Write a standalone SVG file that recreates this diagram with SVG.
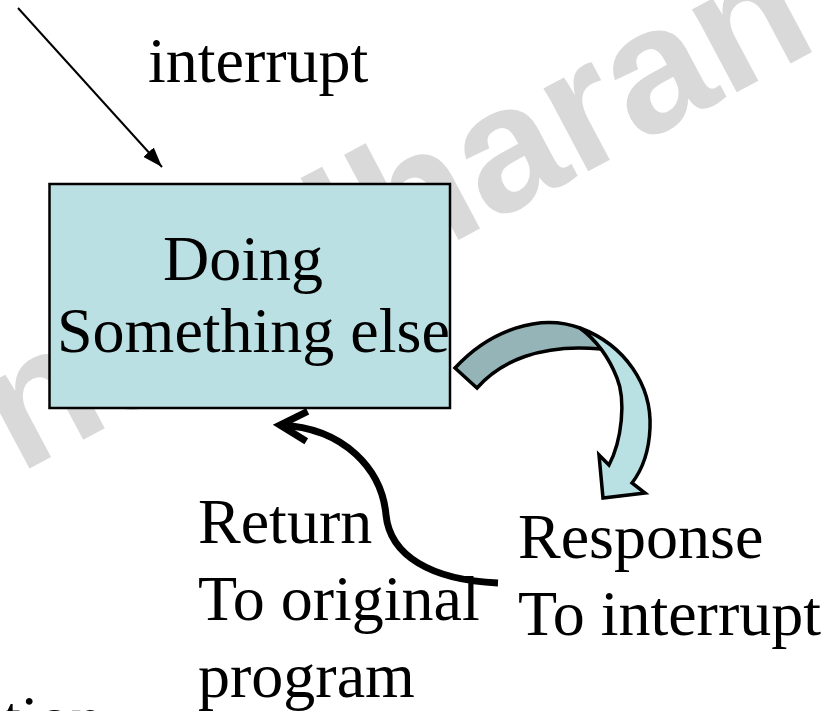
<svg xmlns="http://www.w3.org/2000/svg" width="838" height="711" viewBox="0 0 838 711">
  <style>
    .lbl { font-family: "Liberation Serif", "Times New Roman", serif; font-size: 64px; fill: #000; }
    .wm { font-family: "Liberation Sans", Arial, sans-serif; font-weight: bold; font-size: 178px; fill: #d9d9d9; }
    .box { fill: #bbe0e3; stroke: #000; stroke-width: 2.5; }
    .thin { fill: none; stroke: #000; stroke-width: 2; }
    .thick { fill: none; stroke: #000; stroke-width: 7; stroke-linecap: butt; }
    .band-dark { fill: #94b4b7; stroke: #000; stroke-width: 3.5; stroke-linejoin: miter; }
    .band-light { fill: #b9e0e3; stroke: #000; stroke-width: 3.5; stroke-linejoin: miter; }
  </style>
  <defs>
    <marker id="tri" viewBox="0 0 10 7" refX="10" refY="3.5" markerWidth="10" markerHeight="7" markerUnits="strokeWidth" orient="auto">
      <path d="M0,0 L10,3.5 L0,7 z" fill="#000"/>
    </marker>
    <marker id="chevron" viewBox="-34 -22 40 44" refX="0" refY="0" markerWidth="40" markerHeight="44" markerUnits="userSpaceOnUse" orient="auto" overflow="visible">
      <path d="M-27,-15 L0,0 L-27,15" fill="none" stroke="#000" stroke-width="7" stroke-linejoin="miter"/>
    </marker>
  </defs>

  <rect width="838" height="711" fill="#fff"/>

  <!-- background watermark -->
  <text class="wm" transform="translate(18.4,474.2) rotate(-28)">nsudharan</text>

  <!-- incoming interrupt -->
  <g id="interrupt-label">
    <text class="lbl" x="148" y="82">interrupt</text>
  </g>

  <!-- main state box -->
  <g id="node-doing">
    <rect class="box" x="49.5" y="184" width="400.5" height="224"/>
    <text class="lbl" x="163" y="280">Doing</text>
    <text class="lbl" x="57" y="352">Something else</text>
  </g>

  <g id="response-label">
    <text class="lbl" x="518" y="558">Response</text>
    <text class="lbl" x="518" y="635">To interrupt</text>
  </g>

  <g id="return-label">
    <text class="lbl" x="198" y="543">Return</text>
    <text class="lbl" x="198" y="620">To original</text>
    <text class="lbl" x="198" y="697">program</text>
  </g>

  <g id="cut-label">
    <text class="lbl" x="3" y="740">tion</text>
  </g>

  <g id="connectors">
    <line class="thin" x1="18" y1="8" x2="162" y2="167" marker-end="url(#tri)"/>
    <!-- curved block arrow: back face then front face -->
    <path class="band-dark" d="M455,368 C490,330 540,313 580,328 Q594,336 601,349 C540,343 500,362 477,388 Z"/>
    <path class="band-light" d="M580,328 C625,345 652,385 650,428 C649,452 642,470 632,483 L645,493 L603,498 L599,455 L609,465 C622,440 626,400 617,378 C608,355 596,340 580,328 Z"/>
    <!-- return path back to the box -->
    <path class="thick" d="M498,583 C430,580 390,555 386,515 C382,470 345,428 280,425" marker-end="url(#chevron)"/>
  </g>
</svg>
